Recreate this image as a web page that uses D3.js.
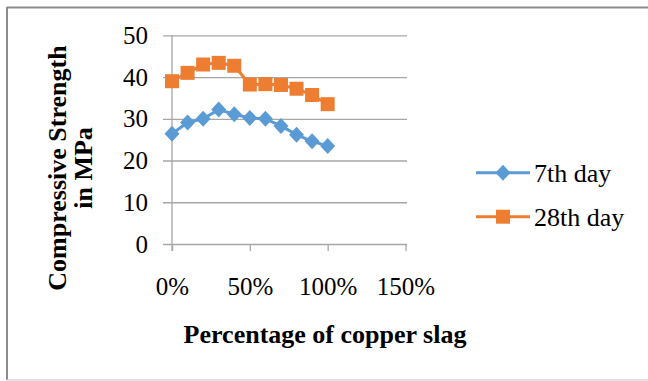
<!DOCTYPE html>
<html>
<head>
<meta charset="utf-8">
<script src="https://cdn.jsdelivr.net/npm/d3@7"></script>
<style>
  html, body { margin: 0; padding: 0; background: #fff; }
  svg text { font-family: "Liberation Serif", "Times New Roman", serif !important; }
</style>
</head>
<body>
<svg id="chart" width="648" height="381"></svg>
<script>
const percentages = [0, 0.1, 0.2, 0.3, 0.4, 0.5, 0.6, 0.7, 0.8, 0.9, 1.0];
const day7 = [26.4, 29.1, 30.0, 32.2, 31.1, 30.2, 30.0, 28.3, 26.2, 24.6, 23.5];
const day28 = [39.0, 41.0, 43.0, 43.4, 42.7, 38.2, 38.3, 38.1, 37.2, 35.7, 33.5];
const xTicks = [0, 0.5, 1.0, 1.5];
const yTicks = [0, 10, 20, 30, 40, 50];
const seriesNames = ["7th day", "28th day"];

const FONT = '"Liberation Serif", "Times New Roman", serif';
const svg = d3.select("#chart");

// outer border
svg.append("line").attr("x1", 7).attr("y1", 7.5).attr("x2", 648).attr("y2", 7.5)
  .attr("stroke", "#8c8c8c").attr("stroke-width", 2);
svg.append("line").attr("x1", 7).attr("y1", 7).attr("x2", 7).attr("y2", 380)
  .attr("stroke", "#8c8c8c").attr("stroke-width", 2);
svg.append("line").attr("x1", 7).attr("y1", 380).attr("x2", 648).attr("y2", 380)
  .attr("stroke", "#d9d9d9").attr("stroke-width", 1.5);

const x = d3.scaleLinear().domain([0, 1.5]).range([172, 405.5]);
const y = d3.scaleLinear().domain([0, 50]).range([244, 35.3]);

const gridColor = "#a6a6a6";

// y axis with gridlines
const yAxis = svg.append("g")
  .attr("transform", "translate(407,0)")
  .call(d3.axisLeft(y).tickValues(yTicks).tickSize(244).tickPadding(15));
yAxis.attr("font-family", null).attr("font-size", null);
yAxis.select(".domain").remove();
yAxis.selectAll("line").attr("stroke", gridColor).attr("stroke-width", 1.3);
yAxis.selectAll("text").attr("fill", "#000")
  .style("font-family", FONT).style("font-size", "25px");

// x axis ticks
const xAxis = svg.append("g")
  .attr("transform", "translate(0,244)")
  .call(d3.axisBottom(x).tickValues(xTicks).tickSize(7).tickPadding(26).tickFormat(d3.format(".0%")));
xAxis.attr("font-family", null).attr("font-size", null);
xAxis.select(".domain").remove();
xAxis.selectAll("line").attr("stroke", gridColor).attr("stroke-width", 1.3);
xAxis.selectAll("text").attr("fill", "#000")
  .style("font-family", FONT).style("font-size", "25px");

// vertical axis line
svg.append("line")
  .attr("x1", x(0)).attr("x2", x(0))
  .attr("y1", y(50)).attr("y2", y(0) + 7)
  .attr("stroke", gridColor).attr("stroke-width", 1.3);

const blue = "#5b9bd5", orange = "#ed7d31";
const diamond = "M0,-8L7.5,0L0,8L-7.5,0Z";
const square = "M-7,-7H7V7H-7Z";

const line = d3.line().x((d, i) => x(percentages[i])).y(d => y(d));

function drawSeries(data, color, shape) {
  svg.append("path").datum(data)
    .attr("d", line).attr("fill", "none")
    .attr("stroke", color).attr("stroke-width", 3).attr("stroke-linejoin", "round");
  svg.append("g").selectAll("path").data(data).join("path")
    .attr("d", shape)
    .attr("transform", (d, i) => `translate(${x(percentages[i])},${y(d)})`)
    .attr("fill", color);
}
drawSeries(day7, blue, diamond);
drawSeries(day28, orange, square);

// legend
const legend = [
  { name: seriesNames[0], color: blue, shape: diamond, y: 172.7 },
  { name: seriesNames[1], color: orange, shape: square, y: 216.7 }
];
legend.forEach(l => {
  svg.append("line").attr("x1", 476).attr("x2", 530).attr("y1", l.y).attr("y2", l.y)
    .attr("stroke", l.color).attr("stroke-width", 3);
  svg.append("path").attr("d", l.shape).attr("transform", `translate(503,${l.y})`).attr("fill", l.color);
  svg.append("text").attr("x", 534).attr("y", l.y + 9.3)
    .style("font-family", FONT).style("font-size", "26px").attr("fill", "#000").text(l.name);
});

// x title
svg.append("text").attr("x", 325).attr("y", 343)
  .attr("text-anchor", "middle")
  .style("font-family", FONT).style("font-size", "26px").style("font-weight", "bold")
  .text("Percentage of copper slag");

// y title (two lines)
const yt = svg.append("text")
  .attr("transform", "translate(0,168) rotate(-90)")
  .attr("text-anchor", "middle")
  .style("font-family", FONT).style("font-size", "26px").style("font-weight", "bold");
yt.append("tspan").attr("x", 0).attr("y", 66).text("Compressive Strength");
yt.append("tspan").attr("x", 0).attr("y", 92).text("in MPa");
</script>
</body>
</html>
